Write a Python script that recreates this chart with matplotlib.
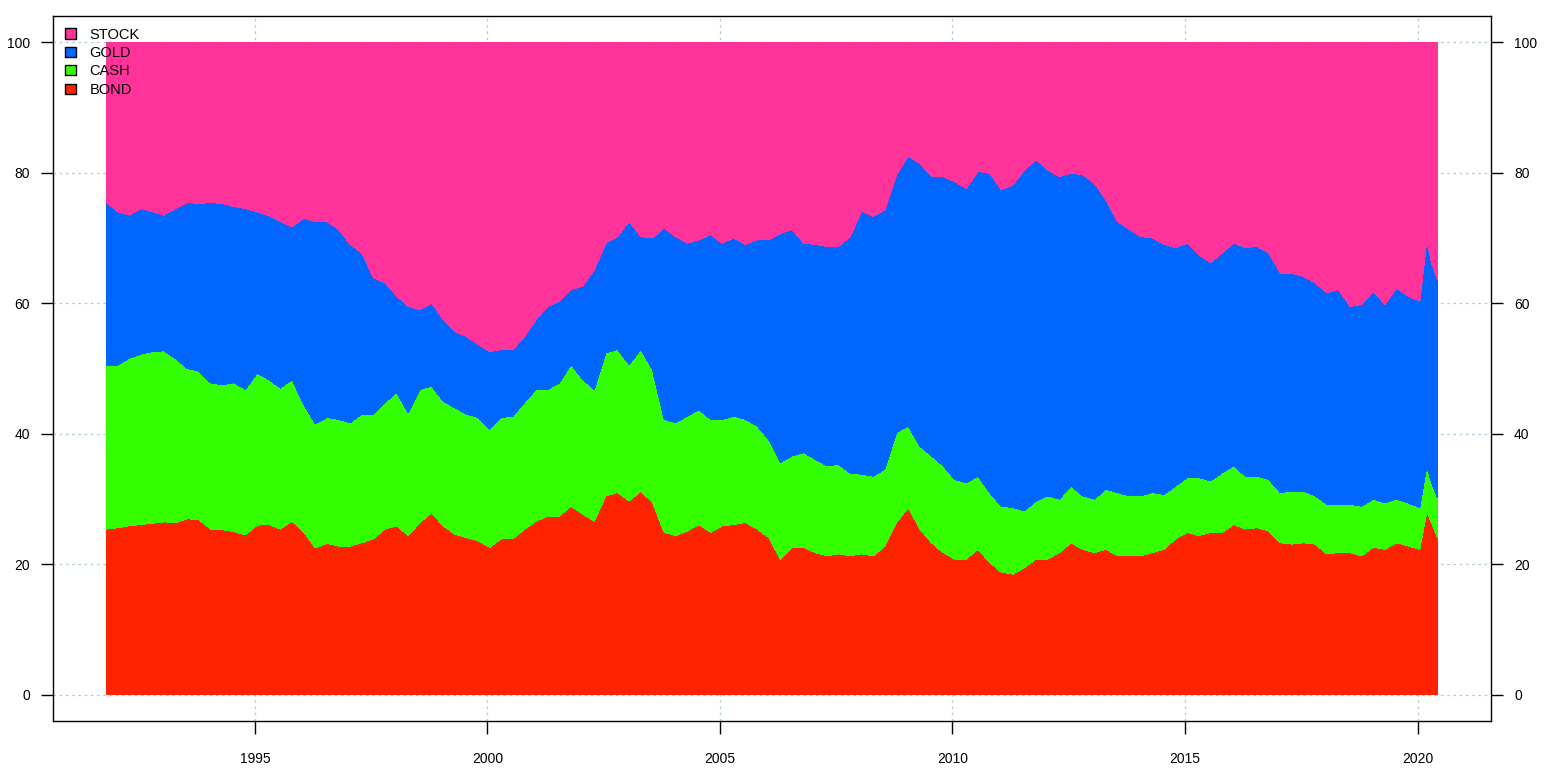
import numpy as np
import matplotlib
matplotlib.use("Agg")
import matplotlib.pyplot as plt

plt.rcParams['font.family'] = ['Liberation Sans', 'DejaVu Sans']

# quarterly readings of the weights (%), last few points irregular to keep the 2020 spike
dates = np.r_[np.arange(1991.80, 2019.9, 0.25), [2020.05, 2020.20, 2020.30, 2020.43]]

bond = [25.4, 25.6, 25.9, 26.1, 26.3, 26.5, 26.4, 27.0, 26.8, 25.4,
        25.3, 25.0, 24.5, 26.0, 26.1, 25.4, 26.6, 25.0, 22.5, 23.2,
        22.8, 22.8, 23.3, 23.9, 25.4, 25.9, 24.4, 26.4, 27.9, 25.9,
        24.6, 24.1, 23.6, 22.6, 23.9, 23.9, 25.4, 26.6, 27.4, 27.4,
        28.9, 27.7, 26.6, 30.5, 31.0, 29.7, 31.2, 29.5, 24.9, 24.4,
        25.1, 26.1, 24.9, 25.9, 26.1, 26.4, 25.4, 24.1, 20.8, 22.6,
        22.6, 21.8, 21.3, 21.6, 21.3, 21.6, 21.3, 22.8, 26.4, 28.7,
        25.4, 23.3, 21.8, 20.8, 20.8, 22.3, 20.3, 18.8, 18.5, 19.5,
        20.8, 20.8, 21.8, 23.3, 22.3, 21.8, 22.3, 21.3, 21.3, 21.3,
        21.8, 22.3, 23.9, 24.9, 24.4, 24.9, 24.9, 26.1, 25.4, 25.6,
        25.1, 23.3, 23.1, 23.3, 23.1, 21.6, 21.8, 21.8, 21.3, 22.6,
        22.3, 23.3, 22.8, 22.3, 28.0, 26.4, 24.1]
cash = [25.0, 24.9, 25.7, 26.1, 26.3, 26.2, 25.1, 23.0, 22.8, 22.4,
        22.2, 22.8, 22.3, 23.3, 22.2, 21.6, 21.7, 19.5, 19.0, 19.3,
        19.4, 18.9, 19.7, 19.1, 19.4, 20.4, 18.8, 20.4, 19.4, 19.1,
        19.4, 18.9, 18.9, 18.1, 18.6, 18.8, 19.4, 20.2, 19.4, 20.4,
        21.7, 20.6, 20.2, 21.9, 21.9, 20.9, 21.7, 20.3, 17.3, 17.3,
        17.6, 17.6, 17.3, 16.3, 16.6, 15.8, 15.8, 15.0, 14.8, 14.0,
        14.5, 14.3, 13.8, 13.7, 12.7, 12.2, 12.2, 11.8, 13.8, 12.5,
        12.7, 13.3, 13.3, 12.2, 11.7, 11.2, 10.7, 10.1, 10.2, 8.7,
        8.9, 9.7, 8.2, 8.7, 8.2, 8.2, 9.2, 9.7, 9.2, 9.2,
        9.2, 8.4, 8.1, 8.4, 8.9, 7.9, 9.1, 9.0, 8.1, 7.9,
        7.9, 7.7, 8.1, 7.9, 7.4, 7.6, 7.4, 7.4, 7.6, 7.4,
        7.1, 6.7, 6.6, 6.4, 7.0, 6.1, 6.1]
gold = [25.1, 23.5, 21.9, 22.3, 21.4, 20.8, 23.0, 25.4, 25.7, 27.6,
        27.8, 27.0, 27.7, 24.7, 25.1, 25.5, 23.4, 28.5, 31.0, 30.0,
        29.1, 27.3, 24.7, 20.9, 18.3, 14.8, 16.3, 12.2, 12.7, 12.5,
        11.7, 11.9, 11.2, 11.9, 10.4, 10.2, 10.1, 10.7, 12.7, 12.5,
        11.5, 14.3, 18.3, 16.8, 17.3, 21.9, 17.3, 20.2, 29.3, 28.5,
        26.5, 26.0, 28.3, 27.0, 27.3, 26.8, 28.5, 30.6, 35.1, 34.7,
        32.1, 32.9, 33.6, 33.4, 36.2, 40.3, 39.8, 39.7, 39.5, 41.3,
        43.3, 42.8, 44.3, 45.6, 45.1, 46.7, 48.9, 48.5, 49.4, 52.2,
        52.3, 49.9, 49.4, 47.9, 49.2, 48.4, 44.3, 41.5, 40.8, 39.7,
        39.0, 38.3, 36.5, 35.9, 34.1, 33.4, 33.7, 34.1, 35.0, 35.2,
        34.7, 33.6, 33.4, 32.9, 32.6, 32.4, 32.9, 30.3, 30.9, 31.8,
        30.4, 32.3, 31.7, 31.6, 34.5, 33.7, 33.4]
stock = [24.5, 26.0, 26.5, 25.5, 26.0, 26.5, 25.5, 24.6, 24.7, 24.6,
         24.7, 25.2, 25.5, 26.0, 26.6, 27.5, 28.3, 27.0, 27.5, 27.5,
         28.7, 31.0, 32.3, 36.1, 36.9, 38.9, 40.5, 41.0, 40.0, 42.5,
         44.3, 45.1, 46.3, 47.4, 47.1, 47.1, 45.1, 42.5, 40.5, 39.7,
         37.9, 37.4, 34.9, 30.8, 29.8, 27.5, 29.8, 30.0, 28.5, 29.8,
         30.8, 30.3, 29.5, 30.8, 30.0, 31.0, 30.3, 30.3, 29.3, 28.7,
         30.8, 31.0, 31.3, 31.3, 29.8, 25.9, 26.7, 25.7, 20.3, 17.5,
         18.6, 20.6, 20.6, 21.4, 22.4, 19.8, 20.1, 22.6, 21.9, 19.6,
         18.0, 19.6, 20.6, 20.1, 20.3, 21.6, 24.2, 27.5, 28.7, 29.8,
         30.0, 31.0, 31.5, 30.8, 32.6, 33.8, 32.3, 30.8, 31.5, 31.3,
         32.3, 35.4, 35.4, 35.9, 36.9, 38.4, 37.9, 40.5, 40.2, 38.2,
         40.2, 37.7, 38.9, 39.7, 30.5, 33.8, 36.4]

names = ["BOND", "CASH", "GOLD", "STOCK"]
colors = ["#FF2200", "#33FF00", "#0066FF", "#FF3399"]

fig = plt.figure(figsize=(15.46, 7.69), dpi=100)
ax = fig.add_axes([53/1546, 1 - 721/769, (1491-53)/1546, (721-16)/769])

ax.stackplot(dates, bond, cash, gold, stock, colors=colors, labels=names,
             linewidth=0, antialiased=False, zorder=2)

ax.set_xlim(1990.66, 2021.58)
ax.set_ylim(-4, 104)
ax.set_xticks([1995, 2000, 2005, 2010, 2015, 2020])
ax.set_yticks([0, 20, 40, 60, 80, 100])
ax.grid(True, color="#A8CCD8", linestyle=(0, (2, 3)), linewidth=0.9, zorder=0)
ax.set_axisbelow(True)

ax.tick_params(axis="x", length=9.4, width=1, pad=13, labelsize=10)
ax.tick_params(axis="y", length=8.6, width=1, pad=8, labelsize=10,
               right=True, labelright=True)
for s in ax.spines.values():
    s.set_linewidth(1.0)

h, l = ax.get_legend_handles_labels()
leg = ax.legend(h[::-1], l[::-1], loc="upper left", bbox_to_anchor=(0.0, 1.0),
                frameon=False, fontsize=10.5, handlelength=0.8, handleheight=0.7,
                handletextpad=0.9, labelspacing=0.3, borderaxespad=0.4)
for p in leg.get_patches():
    p.set_edgecolor("black")
    p.set_linewidth(1.0)

fig.savefig("out.png", dpi=100)
